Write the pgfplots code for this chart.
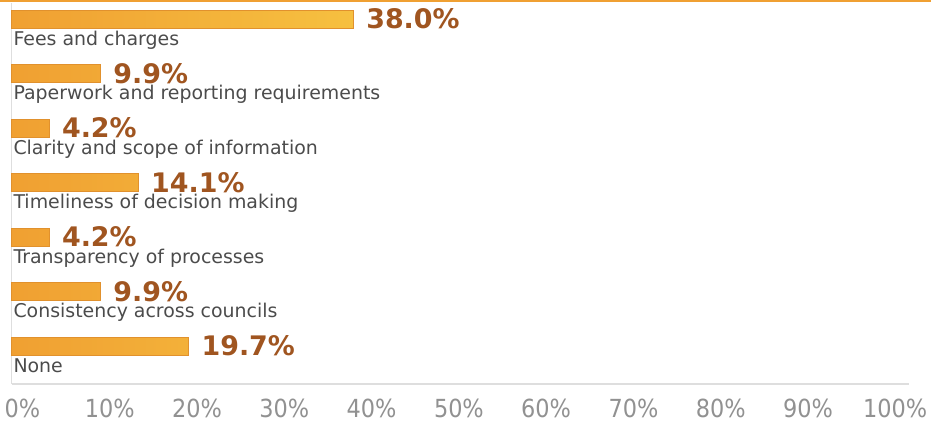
\documentclass[border=0pt]{standalone}
\usepackage{pgfplots}
\pgfplotsset{compat=1.18}
\usepackage{fontspec}
\setmainfont{DejaVu Sans}
\newfontfamily\condfont{DejaVu Sans Condensed}
\definecolor{barL}{RGB}{240,160,50}
\definecolor{barR}{RGB}{246,192,64}
\definecolor{barE}{RGB}{225,145,45}
\definecolor{valC}{RGB}{160,85,32}
\definecolor{catC}{RGB}{75,75,75}
\definecolor{tickC}{RGB}{145,145,145}
\definecolor{axC}{RGB}{222,222,222}
\definecolor{topC}{RGB}{240,160,50}
\begin{document}
\begin{tikzpicture}[x=1bp,y=1bp]
\begin{axis}[
  name=ax,
  scale only axis,
  width=897.5bp, height=381bp,
  xmin=0, xmax=99.7,
  ymin=3, ymax=384,
  y dir=reverse,
  axis lines*=left,
  axis line style={axC, line width=1.2bp},
  xtick={1.22,10.91,20.61,30.30,40.00,49.70,59.39,69.09,78.78,88.48,98.17},
  xticklabels={0\%,10\%,20\%,30\%,40\%,50\%,60\%,70\%,80\%,90\%,100\%},
  xticklabel style={font=\condfont\fontsize{25}{25}\selectfont, text=tickC, yshift=-11bp},
  major tick length=0pt,
  ytick=\empty,
  clip=false,
  xbar,
  bar width=18,
  nodes near coords={\pgfmathprintnumber[fixed,fixed zerofill,precision=1,assume math mode=true]{\pgfplotspointmeta}\%},
  nodes near coords style={font=\bfseries\fontsize{27}{27}\selectfont, text=valC, anchor=west, xshift=9bp, yshift=0bp},
  point meta=x,
]
\addplot[draw=barE, line width=0.8bp, left color=barL, right color=barR] coordinates {
(38.0,19) (9.9,73.5) (4.2,128) (14.1,182.5) (4.2,237) (9.9,291.5) (19.7,346)
};
\foreach \lab/\yy in {Fees and charges/19,Paperwork and reporting requirements/73.5,Clarity and scope of information/128,Timeliness of decision making/182.5,Transparency of processes/237,Consistency across councils/291.5,None/346}{
  \edef\tmp{\noexpand\node[anchor=base west, inner sep=0pt, font=\noexpand\fontsize{19}{19}\noexpand\selectfont, text=catC] at (axis cs:0.2,\yy+26) {\lab};}
  \tmp
}
\end{axis}
\draw[topC, line width=2.5bp] ([xshift=-11.5bp,yshift=2bp]ax.north west) -- ([xshift=22bp,yshift=2bp]ax.north east);
\pgfresetboundingbox
\path ([xshift=-11.5bp,yshift=-43bp]ax.south west) rectangle ([xshift=22bp,yshift=3bp]ax.north east);
\end{tikzpicture}
\end{document}
